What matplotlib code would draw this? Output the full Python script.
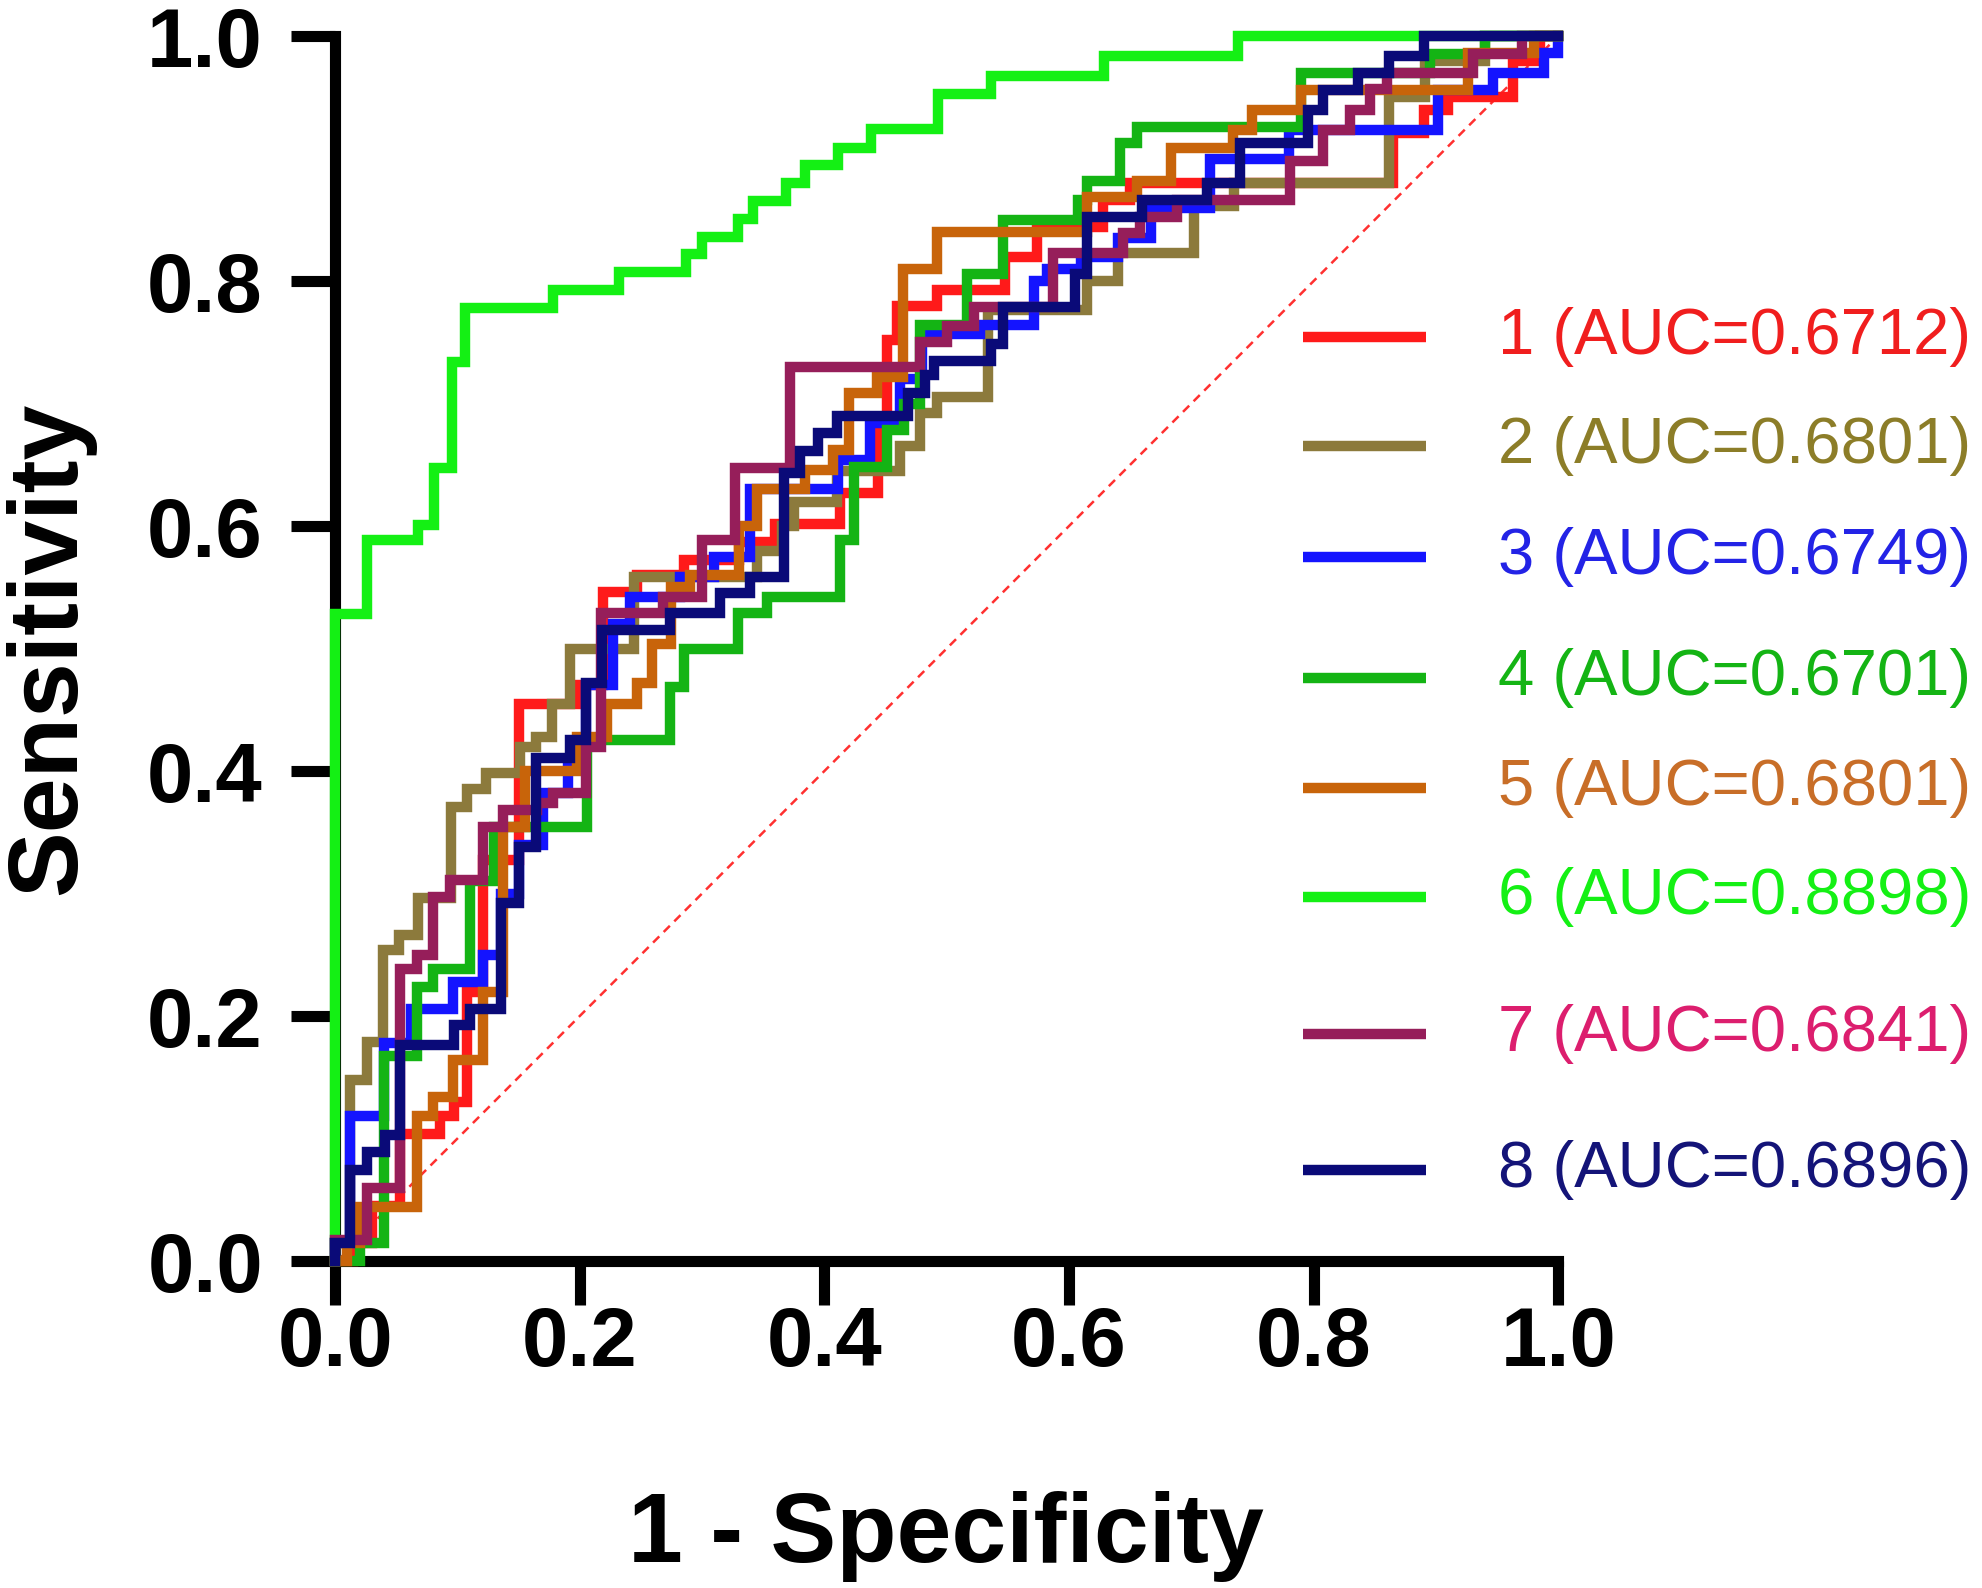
import matplotlib
matplotlib.use("Agg")
import matplotlib.pyplot as plt

plt.rcParams['font.family'] = ['Liberation Sans', 'DejaVu Sans']

# ROC step curves: each (fpr, tpr) pair is a riser at fpr reaching tpr
fpr_1 = [0, 0.015, 0.030, 0.053, 0.086, 0.097, 0.108, 0.121, 0.150, 0.198, 0.219, 0.247, 0.285,
         0.33, 0.36, 0.413, 0.444, 0.451, 0.459, 0.492, 0.548, 0.574, 0.628, 0.65, 0.865, 0.89,
         0.91, 0.963, 0.985, 1.0]
tpr_1 = [0, 0.015, 0.045, 0.104, 0.118, 0.13, 0.220, 0.327, 0.455, 0.47, 0.546, 0.56, 0.572,
         0.587, 0.602, 0.627, 0.68, 0.752, 0.78, 0.793, 0.82, 0.844, 0.866, 0.88, 0.921, 0.94,
         0.95, 0.98, 1.0, 1.0]

fpr_2 = [0, 0, 0.012, 0.026, 0.039, 0.052, 0.068, 0.095, 0.108, 0.123, 0.151, 0.164, 0.177, 0.192,
         0.244, 0.345, 0.365, 0.375, 0.41, 0.462, 0.478, 0.492, 0.534, 0.615, 0.64, 0.702, 0.735,
         0.862, 0.891, 0.94, 1.0]
tpr_2 = [0, 0.015, 0.148, 0.179, 0.254, 0.266, 0.296, 0.371, 0.385, 0.398, 0.42, 0.428, 0.455, 0.50,
         0.558, 0.58, 0.60, 0.62, 0.645, 0.665, 0.692, 0.705, 0.776, 0.80, 0.823, 0.861, 0.88,
         0.95, 0.98, 1.0, 1.0]

fpr_3 = [0, 0, 0.012, 0.04, 0.062, 0.096, 0.121, 0.136, 0.15, 0.17, 0.19, 0.205, 0.227, 0.241,
         0.282, 0.31, 0.339, 0.411, 0.437, 0.462, 0.48, 0.527, 0.571, 0.582, 0.61, 0.64, 0.667,
         0.715, 0.78, 0.902, 0.947, 0.988, 1.0]
tpr_3 = [0, 0.015, 0.118, 0.178, 0.206, 0.228, 0.25, 0.30, 0.34, 0.382, 0.41, 0.47, 0.52, 0.542,
         0.558, 0.575, 0.63, 0.654, 0.684, 0.72, 0.757, 0.764, 0.80, 0.81, 0.82, 0.835, 0.86,
         0.90, 0.923, 0.956, 0.97, 0.986, 1.0]

fpr_4 = [0, 0.02, 0.04, 0.067, 0.08, 0.11, 0.13, 0.206, 0.274, 0.285, 0.329, 0.353, 0.413, 0.424,
         0.451, 0.465, 0.478, 0.517, 0.546, 0.607, 0.615, 0.642, 0.656, 0.79, 0.895, 0.94, 1.0]
tpr_4 = [0, 0.015, 0.167, 0.224, 0.238, 0.31, 0.354, 0.425, 0.469, 0.50, 0.529, 0.542, 0.589, 0.648,
         0.678, 0.70, 0.764, 0.806, 0.85, 0.866, 0.882, 0.913, 0.926, 0.97, 0.985, 1.0, 1.0]

fpr_5 = [0, 0.01, 0.02, 0.067, 0.08, 0.096, 0.121, 0.137, 0.155, 0.198, 0.222, 0.247, 0.259, 0.275,
         0.29, 0.33, 0.345, 0.384, 0.407, 0.42, 0.443, 0.464, 0.492, 0.615, 0.656, 0.683, 0.734,
         0.75, 0.79, 0.926, 0.98, 1.0]
tpr_5 = [0, 0.015, 0.044, 0.118, 0.134, 0.164, 0.22, 0.354, 0.40, 0.428, 0.455, 0.472, 0.504, 0.55,
         0.56, 0.60, 0.63, 0.646, 0.662, 0.709, 0.722, 0.81, 0.84, 0.869, 0.882, 0.909, 0.923,
         0.94, 0.956, 0.986, 1.0, 1.0]

fpr_6 = [0, 0, 0.026, 0.068, 0.081, 0.0955, 0.106, 0.178, 0.232, 0.287, 0.300, 0.329, 0.342, 0.369,
         0.384, 0.411, 0.438, 0.493, 0.536, 0.629, 0.738, 1.0]
tpr_6 = [0, 0.528, 0.589, 0.601, 0.647, 0.734, 0.778, 0.793, 0.807, 0.822, 0.836, 0.851, 0.865, 0.880,
         0.895, 0.909, 0.924, 0.953, 0.967, 0.984, 1.0, 1.0]

fpr_7 = [0, 0, 0.026, 0.053, 0.067, 0.08, 0.094, 0.121, 0.137, 0.165, 0.178, 0.205, 0.217, 0.268,
         0.30, 0.327, 0.372, 0.478, 0.50, 0.522, 0.587, 0.644, 0.658, 0.688, 0.781, 0.808, 0.83,
         0.846, 0.86, 0.93, 0.97, 1.0]
tpr_7 = [0, 0.017, 0.06, 0.238, 0.25, 0.297, 0.311, 0.354, 0.368, 0.374, 0.382, 0.42, 0.529, 0.542,
         0.589, 0.647, 0.73, 0.75, 0.763, 0.779, 0.823, 0.839, 0.852, 0.866, 0.898, 0.923, 0.94,
         0.957, 0.97, 0.985, 1.0, 1.0]

fpr_8 = [0, 0, 0.012, 0.026, 0.041, 0.053, 0.097, 0.110, 0.136, 0.15, 0.164, 0.192, 0.205, 0.218,
         0.274, 0.315, 0.339, 0.367, 0.38, 0.395, 0.41, 0.468, 0.482, 0.49, 0.536, 0.546, 0.605,
         0.615, 0.66, 0.713, 0.74, 0.795, 0.808, 0.836, 0.862, 0.89, 1.0]
tpr_8 = [0, 0.015, 0.074, 0.089, 0.103, 0.176, 0.193, 0.206, 0.292, 0.338, 0.411, 0.425, 0.472, 0.515,
         0.529, 0.545, 0.558, 0.643, 0.661, 0.676, 0.69, 0.709, 0.723, 0.735, 0.749, 0.779, 0.806,
         0.852, 0.866, 0.88, 0.913, 0.94, 0.956, 0.97, 0.984, 1.0, 1.0]

labels = ['1 (AUC=0.6712)', '2 (AUC=0.6801)', '3 (AUC=0.6749)', '4 (AUC=0.6701)',
          '5 (AUC=0.6801)', '6 (AUC=0.8898)', '7 (AUC=0.6841)', '8 (AUC=0.6896)']
line_colors = ['#FF1A1A', '#8C7A3C', '#1414FF', '#14B414', '#C8640A', '#14F014', '#961E5A', '#0A0A78']
text_colors = ['#F01E1E', '#8C7D28', '#2323E6', '#14B414', '#C86E28', '#14F014', '#DC1E6E', '#141478']
legend_y = [0.754, 0.665, 0.575, 0.476, 0.386, 0.297, 0.185, 0.074]

curves = [(fpr_1, tpr_1), (fpr_2, tpr_2), (fpr_3, tpr_3), (fpr_4, tpr_4),
          (fpr_5, tpr_5), (fpr_6, tpr_6), (fpr_7, tpr_7), (fpr_8, tpr_8)]

fig = plt.figure(figsize=(19.83, 15.88), dpi=100)
ax = fig.add_axes([0.169, 0.2059, 0.6168, 0.7714])

# reference diagonal
ax.plot([0, 1], [0, 1], color='#FF3030', lw=1.8, linestyle=(0, (3.5, 2.5)), zorder=2)

for (fx, ty), c in zip(curves, line_colors):
    ax.plot(fx, ty, drawstyle='steps-post', color=c, lw=7.5, clip_on=False, zorder=3,
            solid_joinstyle='miter')

# legend drawn by hand, line + coloured text
for lab, lc, tc, yy in zip(labels, line_colors, text_colors, legend_y):
    ax.plot([0.791, 0.892], [yy, yy], color=lc, lw=7.5, clip_on=False, zorder=3,
            solid_capstyle='butt')
    ax.text(0.951, yy, lab, color=tc, fontsize=47, va='center', ha='left', clip_on=False)

ax.set_xlim(0, 1)
ax.set_ylim(0, 1)
ticks = [0.0, 0.2, 0.4, 0.6, 0.8, 1.0]
ax.set_xticks(ticks)
ax.set_yticks(ticks)
ax.set_xticklabels(['%.1f' % t for t in ticks], fontsize=60, fontweight='bold')
ax.set_yticklabels(['%.1f' % t for t in ticks], fontsize=60, fontweight='bold')
ax.tick_params(axis='both', direction='out', length=32, width=8, color='black')
ax.tick_params(axis='x', pad=0)
ax.tick_params(axis='y', pad=20)

for side in ['top', 'right']:
    ax.spines[side].set_visible(False)
for side in ['left', 'bottom']:
    ax.spines[side].set_linewidth(8)
    ax.spines[side].set_capstyle('projecting')

fig.text(0.477, 0.0164, '1 - Specificity', fontsize=71, fontweight='bold',
         ha='center', va='baseline')
fig.text(0.002, 0.592, 'Sensitivity', fontsize=71, fontweight='bold',
         ha='left', va='center', rotation=90)

fig.savefig('out.png', dpi=100)
